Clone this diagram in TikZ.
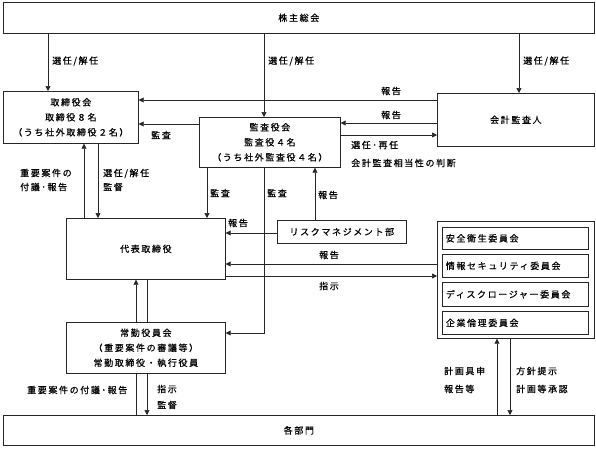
\documentclass[tikz,border=0pt]{standalone}
\usepackage{fontspec}
\usetikzlibrary{arrows.meta}
\newfontfamily\jp[LetterSpace=18,FakeBold=0.5]{Noto Sans CJK JP}
\tikzset{
  box/.style={draw=black!85, line width=0.7pt, inner sep=0pt, anchor=north west,
    font=\jp\fontsize{9}{15}\selectfont, align=center},
  lbl/.style={anchor=west, inner sep=0pt, font=\jp\fontsize{9}{14}\selectfont, align=left},
  arr/.style={draw=black!85, line width=0.7pt, -{Triangle[length=5pt,width=5pt]}},
  ln/.style={draw=black!85, line width=0.7pt},
}
\begin{document}
\begin{tikzpicture}[x=1pt,y=-1pt]
\useasboundingbox[fill=white] (0,0) rectangle (596,450);
% boxes
\node[box, minimum width=591pt, minimum height=31pt] (kabu) at (3,2) {株主総会};
\node[box, minimum width=135pt, minimum height=52pt] (tori) at (3,91) {取締役会\\取締役８名\\（うち社外取締役２名）};
\node[box, minimum width=141pt, minimum height=50pt] (kansa) at (199,117) {監査役会\\監査役４名\\（うち社外監査役４名）};
\node[box, minimum width=157pt, minimum height=53pt] (kaikei) at (437,93) {会計監査人};
\node[box, minimum width=159pt, minimum height=61pt] (daihyo) at (66,218) {代表取締役};
\node[box, minimum width=129pt, minimum height=23pt] (risk) at (277,220) {リスクマネジメント部};
\node[box, minimum width=157pt, minimum height=117pt] (iinkai) at (437,221) {};
\node[box, minimum width=146pt, minimum height=22pt, text width=139pt, align=left] (i1) at (442,227) {安全衛生委員会};
\node[box, minimum width=146pt, minimum height=23pt, text width=139pt, align=left] (i2) at (442,254) {情報セキュリティ委員会};
\node[box, minimum width=146pt, minimum height=24pt, text width=139pt, align=left] (i3) at (442,282) {ディスクロージャー委員会};
\node[box, minimum width=146pt, minimum height=23pt, text width=139pt, align=left] (i4) at (442,311) {企業倫理委員会};
\node[box, minimum width=159pt, minimum height=51pt] (joukin) at (66,322) {常勤役員会\\（重要案件の審議等）\\常勤取締役・執行役員};
\node[box, minimum width=591pt, minimum height=30pt] (kakubu) at (3,415) {各部門};
% connectors
\draw[arr] (kabu.south -| 48,0) -- (tori.north -| 48,0);
\draw[arr] (kabu.south -| 264,0) -- (kansa.north -| 264,0);
\draw[arr] (kabu.south -| 519,0) -- (kaikei.north -| 519,0);
\draw[arr] (kaikei.west |- 0,100) -- (tori.east |- 0,100);
\draw[arr] (kaikei.west |- 0,123) -- (kansa.east |- 0,123);
\draw[arr] (kansa.east |- 0,135) -- (kaikei.west |- 0,135);
\draw[arr] (kansa.west |- 0,124) -- (tori.east |- 0,124);
\draw[arr] (daihyo.north -| 84,0) -- (tori.south -| 84,0);
\draw[arr] (tori.south -| 98,0) -- (daihyo.north -| 98,0);
\draw[arr] (kansa.south -| 207,0) -- (daihyo.north -| 207,0);
\draw[arr] (kansa.south -| 264,0) |- (joukin.east |- 0,333);
\draw[arr] (risk.west |- 0,233) -- (daihyo.east |- 0,233);
\draw[arr] (risk.north -| 315,0) -- (kansa.south -| 315,0);
\draw[arr] (iinkai.west |- 0,264) -- (daihyo.east |- 0,264);
\draw[arr] (daihyo.east |- 0,276) -- (iinkai.west |- 0,276);
\draw[arr] (joukin.north -| 136,0) -- (daihyo.south -| 136,0);
\draw[ln] (daihyo.south -| 147,0) -- (joukin.north -| 147,0);
\draw[ln] (joukin.south -| 136,0) -- (kakubu.north -| 136,0);
\draw[arr] (joukin.south -| 147,0) -- (kakubu.north -| 147,0);
\draw[arr] (kakubu.north -| 497,0) -- (iinkai.south -| 497,0);
\draw[arr] (iinkai.south -| 510,0) -- (kakubu.north -| 510,0);
% labels
\node[lbl] (l1) at (52,61) {選任/解任};
\node[lbl] (l2) at (268,61) {選任/解任};
\node[lbl] (l3) at (523,61) {選任/解任};
\node[lbl] (l4) at (381,91) {報告};
\node[lbl] (l5) at (381,115) {報告};
\node[lbl] (l6) at (151,135) {監査};
\node[lbl, font=\jp\fontsize{9}{18}\selectfont] (l7) at (351,154) {選任･再任\\会計監査相当性の判断};
\node[lbl] (l8) at (20,180) {重要案件の\\付議･報告};
\node[lbl] (l9) at (103,180) {選任/解任\\監督};
\node[lbl] (l10) at (210,193) {監査};
\node[lbl] (l11) at (267,193) {監査};
\node[lbl] (l12) at (318,195) {報告};
\node[lbl] (l13) at (228,223) {報告};
\node[lbl] (l14) at (319,255) {報告};
\node[lbl] (l15) at (319,286) {指示};
\node[lbl] (l16) at (27,390) {重要案件の付議･報告};
\node[lbl, font=\jp\fontsize{9}{16}\selectfont] (l17) at (157,397) {指示\\監督};
\node[lbl, font=\jp\fontsize{9}{18}\selectfont] (l18) at (444,380) {計画具申\\報告等};
\node[lbl, font=\jp\fontsize{9}{18}\selectfont] (l19) at (516,380) {方針提示\\計画等承認};
\end{tikzpicture}
\end{document}
